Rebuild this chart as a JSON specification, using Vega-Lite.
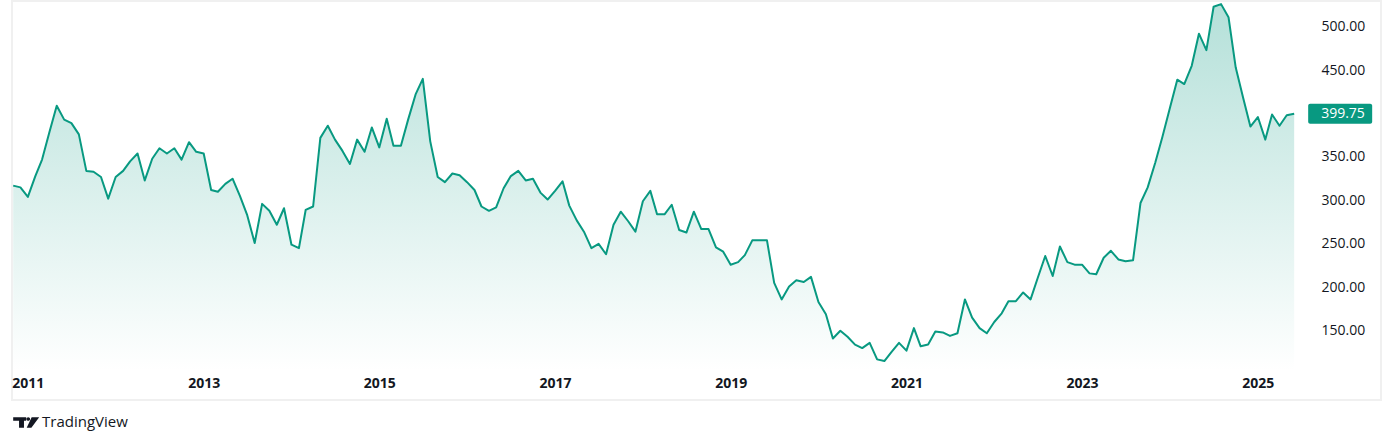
{
  "$schema": "https://vega.github.io/schema/vega-lite/v6.json",
  "width": 1369,
  "height": 399,
  "autosize": {"type": "none"},
  "padding": {"left": 12, "top": 1, "right": 13, "bottom": 45},
  "background": "#ffffff",
  "config": {"view": {"stroke": "#f0f0f0", "strokeWidth": 2}, "font": "Open Sans"},
  "datasets": {
    "brand": [{"name": "TradingView"}]
  },
  "data": {"values": [
    {"date":"2010-11-01","close":317},{"date":"2010-12-01","close":315},
    {"date":"2011-01-01","close":304},{"date":"2011-02-01","close":328},{"date":"2011-03-01","close":347},{"date":"2011-04-01","close":379},{"date":"2011-05-01","close":409},{"date":"2011-06-01","close":393},{"date":"2011-07-01","close":389},{"date":"2011-08-01","close":376},{"date":"2011-09-01","close":334},{"date":"2011-10-01","close":333},{"date":"2011-11-01","close":327},{"date":"2011-12-01","close":302},
    {"date":"2012-01-01","close":327},{"date":"2012-02-01","close":334},{"date":"2012-03-01","close":345},{"date":"2012-04-01","close":354},{"date":"2012-05-01","close":323},{"date":"2012-06-01","close":348},{"date":"2012-07-01","close":360},{"date":"2012-08-01","close":354},{"date":"2012-09-01","close":360},{"date":"2012-10-01","close":347},{"date":"2012-11-01","close":367},{"date":"2012-12-01","close":356},
    {"date":"2013-01-01","close":354},{"date":"2013-02-01","close":312},{"date":"2013-03-01","close":310},{"date":"2013-04-01","close":319},{"date":"2013-05-01","close":325},{"date":"2013-06-01","close":305},{"date":"2013-07-01","close":283},{"date":"2013-08-01","close":251},{"date":"2013-09-01","close":296},{"date":"2013-10-01","close":288},{"date":"2013-11-01","close":272},{"date":"2013-12-01","close":291},
    {"date":"2014-01-01","close":249},{"date":"2014-02-01","close":245},{"date":"2014-03-01","close":289},{"date":"2014-04-01","close":293},{"date":"2014-05-01","close":372},{"date":"2014-06-01","close":386},{"date":"2014-07-01","close":370},{"date":"2014-08-01","close":357},{"date":"2014-09-01","close":342},{"date":"2014-10-01","close":370},{"date":"2014-11-01","close":356},{"date":"2014-12-01","close":384},
    {"date":"2015-01-01","close":361},{"date":"2015-02-01","close":394},{"date":"2015-03-01","close":363},{"date":"2015-04-01","close":363},{"date":"2015-05-01","close":393},{"date":"2015-06-01","close":422},{"date":"2015-07-01","close":440},{"date":"2015-08-01","close":368},{"date":"2015-09-01","close":327},{"date":"2015-10-01","close":321},{"date":"2015-11-01","close":331},{"date":"2015-12-01","close":329},
    {"date":"2016-01-01","close":321},{"date":"2016-02-01","close":312},{"date":"2016-03-01","close":293},{"date":"2016-04-01","close":288},{"date":"2016-05-01","close":292},{"date":"2016-06-01","close":314},{"date":"2016-07-01","close":328},{"date":"2016-08-01","close":334},{"date":"2016-09-01","close":323},{"date":"2016-10-01","close":325},{"date":"2016-11-01","close":309},{"date":"2016-12-01","close":301},
    {"date":"2017-01-01","close":311},{"date":"2017-02-01","close":322},{"date":"2017-03-01","close":294},{"date":"2017-04-01","close":277},{"date":"2017-05-01","close":264},{"date":"2017-06-01","close":245},{"date":"2017-07-01","close":250},{"date":"2017-08-01","close":238},{"date":"2017-09-01","close":272},{"date":"2017-10-01","close":287},{"date":"2017-11-01","close":276},{"date":"2017-12-01","close":264},
    {"date":"2018-01-01","close":299},{"date":"2018-02-01","close":311},{"date":"2018-03-01","close":284},{"date":"2018-04-01","close":284},{"date":"2018-05-01","close":295},{"date":"2018-06-01","close":266},{"date":"2018-07-01","close":263},{"date":"2018-08-01","close":287},{"date":"2018-09-01","close":267},{"date":"2018-10-01","close":267},{"date":"2018-11-01","close":246},{"date":"2018-12-01","close":241},
    {"date":"2019-01-01","close":226},{"date":"2019-02-01","close":229},{"date":"2019-03-01","close":237},{"date":"2019-04-01","close":254},{"date":"2019-05-01","close":254},{"date":"2019-06-01","close":254},{"date":"2019-07-01","close":205},{"date":"2019-08-01","close":186},{"date":"2019-09-01","close":201},{"date":"2019-10-01","close":208},{"date":"2019-11-01","close":206},{"date":"2019-12-01","close":212},
    {"date":"2020-01-01","close":183},{"date":"2020-02-01","close":169},{"date":"2020-03-01","close":141},{"date":"2020-04-01","close":150},{"date":"2020-05-01","close":143},{"date":"2020-06-01","close":134},{"date":"2020-07-01","close":130},{"date":"2020-08-01","close":136},{"date":"2020-09-01","close":117},{"date":"2020-10-01","close":115},{"date":"2020-11-01","close":126},{"date":"2020-12-01","close":136},
    {"date":"2021-01-01","close":127},{"date":"2021-02-01","close":153},{"date":"2021-03-01","close":132},{"date":"2021-04-01","close":134},{"date":"2021-05-01","close":149},{"date":"2021-06-01","close":148},{"date":"2021-07-01","close":144},{"date":"2021-08-01","close":147},{"date":"2021-09-01","close":186},{"date":"2021-10-01","close":165},{"date":"2021-11-01","close":153},{"date":"2021-12-01","close":147},
    {"date":"2022-01-01","close":160},{"date":"2022-02-01","close":170},{"date":"2022-03-01","close":184},{"date":"2022-04-01","close":184},{"date":"2022-05-01","close":194},{"date":"2022-06-01","close":186},{"date":"2022-07-01","close":211},{"date":"2022-08-01","close":236},{"date":"2022-09-01","close":213},{"date":"2022-10-01","close":247},{"date":"2022-11-01","close":229},{"date":"2022-12-01","close":226},
    {"date":"2023-01-01","close":226},{"date":"2023-02-01","close":216},{"date":"2023-03-01","close":215},{"date":"2023-04-01","close":234},{"date":"2023-05-01","close":242},{"date":"2023-06-01","close":232},{"date":"2023-07-01","close":230},{"date":"2023-08-01","close":231},{"date":"2023-09-01","close":297},{"date":"2023-10-01","close":315},{"date":"2023-11-01","close":343},{"date":"2023-12-01","close":373},
    {"date":"2024-01-01","close":406},{"date":"2024-02-01","close":439},{"date":"2024-03-01","close":434},{"date":"2024-04-01","close":455},{"date":"2024-05-01","close":492},{"date":"2024-06-01","close":473},{"date":"2024-07-01","close":523},{"date":"2024-08-01","close":526},{"date":"2024-09-01","close":511},{"date":"2024-10-01","close":453},{"date":"2024-11-01","close":418},{"date":"2024-12-01","close":385},
    {"date":"2025-01-01","close":396},{"date":"2025-02-01","close":370},{"date":"2025-03-01","close":399},{"date":"2025-04-01","close":386},{"date":"2025-05-01","close":398},{"date":"2025-06-01","close":399.75}
  ]},
  "layer": [
    {
      "mark": {
        "type": "area",
        "line": false,
        "color": {
          "gradient": "linear",
          "x1": 1, "y1": 0, "x2": 1, "y2": 1,
          "stops": [
            {"offset": 0, "color": "rgba(8,153,129,0.30)"},
            {"offset": 1, "color": "rgba(8,153,129,0.0)"}
          ]
        }
      },
      "encoding": {
        "x": {
          "field": "date",
          "type": "temporal",
          "scale": {
            "type": "utc",
            "domain": [
              {"year": 2010, "month": 10, "date": 27, "utc": true},
              {"year": 2026, "month": 5, "date": 28, "utc": true}
            ]
          },
          "axis": {
            "title": null,
            "values": [
              {"year": 2011, "month": 1, "date": 1, "utc": true},
              {"year": 2013, "month": 1, "date": 1, "utc": true},
              {"year": 2015, "month": 1, "date": 1, "utc": true},
              {"year": 2017, "month": 1, "date": 1, "utc": true},
              {"year": 2019, "month": 1, "date": 1, "utc": true},
              {"year": 2021, "month": 1, "date": 1, "utc": true},
              {"year": 2023, "month": 1, "date": 1, "utc": true},
              {"year": 2025, "month": 1, "date": 1, "utc": true}
            ],
            "format": "%Y",
            "formatType": "utc",
            "offset": -29,
            "labelPadding": 12,
            "labelBaseline": "middle",
            "ticks": false,
            "tickSize": 0,
            "domain": false,
            "grid": false,
            "labelFlush": false,
            "labelOverlap": false,
            "labelFont": "Open Sans",
            "labelFontSize": 14,
            "labelFontWeight": "bold",
            "labelColor": "#131722"
          }
        },
        "y": {
          "field": "close",
          "type": "quantitative",
          "scale": {"domain": [70.2, 529.6], "zero": false, "nice": false},
          "axis": {
            "title": null,
            "orient": "right",
            "values": [150, 200, 250, 300, 350, 450, 500],
            "format": ".2f",
            "offset": -60,
            "labelPadding": 0,
            "labelAlign": "left",
            "ticks": false,
            "tickSize": 0,
            "domain": false,
            "grid": false,
            "labelFlush": false,
            "labelOverlap": false,
            "labelFont": "Open Sans",
            "labelFontSize": 14,
            "labelColor": "#131722"
          }
        },
        "y2": {"datum": 103.6}
      }
    },
    {
      "mark": {"type": "line", "color": "#089981", "strokeWidth": 2, "strokeJoin": "round"},
      "encoding": {
        "x": {"field": "date", "type": "temporal"},
        "y": {"field": "close", "type": "quantitative"}
      }
    },
    {
      "transform": [{"filter": "datum.close == 399.75"}],
      "mark": {"type": "rect", "color": "#089981", "xOffset": 14, "x2Offset": 78, "yOffset": -10, "y2Offset": 10, "cornerRadius": 2},
      "encoding": {
        "x": {"field": "date", "type": "temporal"},
        "x2": {"field": "date"},
        "y": {"field": "close", "type": "quantitative"},
        "y2": {"field": "close"}
      }
    },
    {
      "transform": [{"filter": "datum.close == 399.75"}],
      "mark": {"type": "text", "dx": 27, "align": "left", "baseline": "middle", "color": "#ffffff", "font": "Open Sans", "fontSize": 14},
      "encoding": {
        "x": {"field": "date", "type": "temporal"},
        "y": {"field": "close", "type": "quantitative"},
        "text": {"field": "close", "type": "quantitative", "format": ".2f"}
      }
    },
    {
      "data": {"name": "brand"},
      "mark": {
        "type": "point",
        "shape": "M-1,-0.4H0V-0.14H-0.17V0.4H-0.55V-0.14H-1Z M0.02,-0.27A0.14,0.14 0 1,0 0.30,-0.27A0.14,0.14 0 1,0 0.02,-0.27Z M0.42,-0.4H1L0.4,0.4H0.04Z",
        "filled": true,
        "size": 676,
        "color": "#131722",
        "opacity": 1,
        "strokeWidth": 0
      },
      "encoding": {
        "x": {"datum": {"year": 2010, "month": 12, "date": 25, "utc": true}, "type": "temporal"},
        "y": {"datum": 44.3, "type": "quantitative"}
      }
    },
    {
      "data": {"name": "brand"},
      "mark": {"type": "text", "align": "left", "baseline": "alphabetic", "color": "#131722", "font": "Open Sans", "fontSize": 15},
      "encoding": {
        "x": {"datum": {"year": 2011, "month": 3, "date": 1, "utc": true}, "type": "temporal"},
        "y": {"datum": 38.8, "type": "quantitative"},
        "text": {"field": "name", "type": "nominal"}
      }
    }
  ]
}
